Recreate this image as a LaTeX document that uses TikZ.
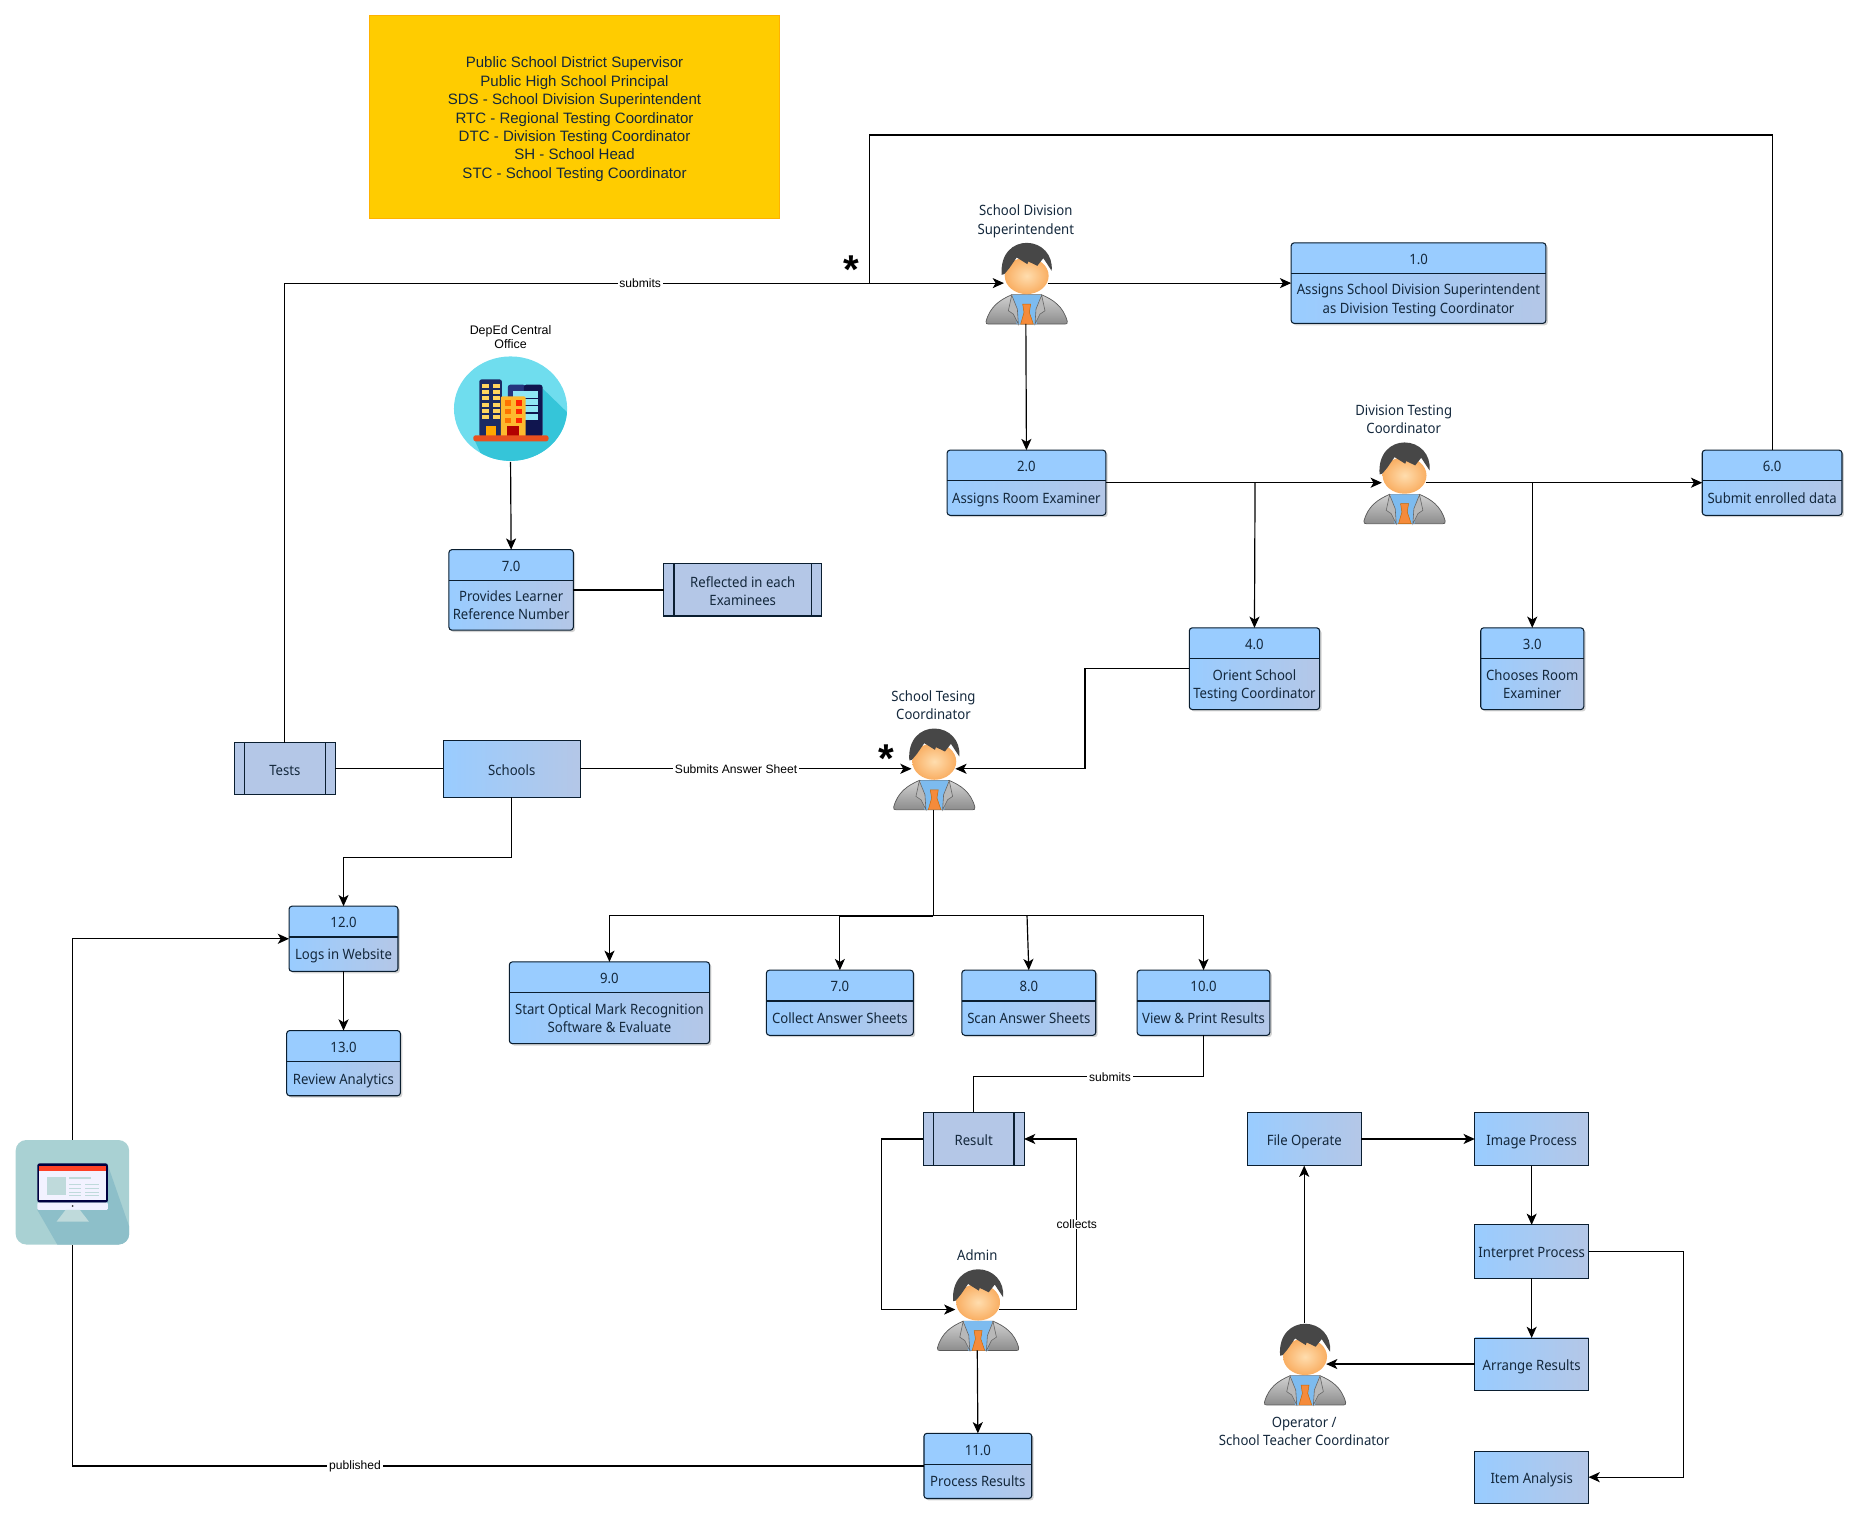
\documentclass[tikz,border=0pt]{standalone}
\usepackage{fontspec}
\setmainfont{Noto Sans}[FakeStretch=.925]
\newfontfamily\labelfont{Liberation Sans}
\usetikzlibrary{arrows.meta,positioning,calc,shadows}
\definecolor{headblue}{HTML}{99CCFF}
\definecolor{bodyblue}{HTML}{B4C7E7}
\definecolor{inkline}{HTML}{0A1E30}
\definecolor{inktext}{HTML}{14283C}
\definecolor{legendfill}{HTML}{FFCC00}
\definecolor{facein}{HTML}{FFDDAE}
\definecolor{faceout}{HTML}{F9AE62}
\definecolor{shirtblue}{HTML}{7DBBEF}
\definecolor{tieorange}{HTML}{F58B3B}
\definecolor{skylight}{HTML}{6FDDEE}
\definecolor{skydark}{HTML}{35C5D9}
\definecolor{navya}{HTML}{1B2A63}
\definecolor{navyb}{HTML}{25357E}
\definecolor{navyc}{HTML}{10154F}
\definecolor{winblue}{HTML}{8FE6F5}
\definecolor{winyellow}{HTML}{FFD45E}
\definecolor{blockorange}{HTML}{FDB92E}
\definecolor{basered}{HTML}{E8501E}
\definecolor{tilebg}{HTML}{A9D1D3}
\definecolor{tilesh}{HTML}{8DBFC9}
\definecolor{tilepale}{HTML}{BFDADB}
\newcommand{\samehgt}[1]{\rule{0pt}{13.5pt}#1\vphantom{Apg}}
\tikzset{
  suitman/.pic={
    \begin{scope}[x=.281pt,y=-.281pt]
      \draw[draw=black!65,top color=black!18,bottom color=black!45,line width=.6pt]
        (-122,115) .. controls (-110,70) and (-80,50) .. (-45,35) -- (45,35)
        .. controls (80,50) and (110,70) .. (122,115)
        .. controls (123,122) and (120,123) .. (115,123) -- (-115,123)
        .. controls (-120,123) and (-123,122) .. (-122,115) -- cycle;
      \fill[shirtblue] (-42,35) -- (42,35) -- (30,123) -- (-30,123) -- cycle;
      \draw[draw=black!60,fill=black!28,line width=.5pt] (-45,36) -- (-55,83) -- (-40,93) -- (-25,123) -- (-28,78) -- cycle;
      \draw[draw=black!60,fill=black!28,line width=.5pt] (45,36) -- (55,83) -- (40,93) -- (25,123) -- (28,78) -- cycle;
      \draw[draw=orange!80!black,fill=tieorange,line width=.4pt]
        (-12,63) -- (12,63) -- (8,88) -- (20,123) -- (-18,123) -- (-8,88) -- cycle;
      \shade[inner color=facein,outer color=faceout] (0,-22) ellipse (66 and 55);
      \fill[black!72]
        (-75,-25) .. controls (-80,-90) and (-40,-121) .. (0,-121)
        .. controls (45,-121) and (80,-85) .. (75,-37)
        -- (50,-75) -- (32,-52) -- (5,-65) -- (2,-57) -- (-30,-77)
        -- (-52,-45) -- (-67,-27) -- cycle;
    \end{scope}
  },
  officeicon/.pic={
    \begin{scope}[x=.281pt,y=-.281pt]
      \fill[skylight] (0,0) ellipse (170 and 157);
      \begin{scope}
        \clip (0,0) ellipse (170 and 157);
        \fill[skydark] (97,-60) -- (200,40) -- (200,200) -- (-60,200) -- (-110,90) -- (97,90) -- cycle;
      \end{scope}
      % Buildings
      \fill[navya,rounded corners=2pt] (-94,-88) rectangle (-26,85);
      \foreach \wy in {-73,-55,-37,-18,0,20}
        \foreach \wx in {-85,-52}
          \fill[winyellow] (\wx,\wy) rectangle +(20,12);
      \fill[orange!70!yellow] (-74,53) rectangle (-44,85);
      \fill[navyb,rounded corners=2pt] (-8,-72) rectangle (45,85);
      \fill[navyc,rounded corners=2pt] (40,-72) rectangle (96,85);
      \foreach \wy/\wh in {-52/19,-30/20,-7/17,17/18}
        \fill[winblue] (8,\wy) rectangle +(74,\wh);
      \fill[blockorange,rounded corners=1pt] (-29,-37) rectangle (45,85);
      \foreach \wy in {-25,0,27}{
        \fill[orange!90!red] (-17,\wy) rectangle +(17,16);
        \fill[red!70!orange] (17,\wy) rectangle +(17,16);
      }
      \fill[red!70!black] (-10,53) rectangle (26,85);
      \fill[basered,rounded corners=2pt] (-112,80) rectangle (114,98);
    \end{scope}
  },
  screenicon/.pic={
    \begin{scope}[x=.281pt,y=-.281pt]
      \fill[tilebg,rounded corners=9pt] (-170,-157) rectangle (171,157);
      \begin{scope}
        \clip[rounded corners=9pt] (-170,-157) rectangle (171,157);
        \fill[tilesh] (105,-87) -- (171,103) -- (171,157) -- (-45,157) -- (-105,53) -- cycle;
      \end{scope}
      \fill[black!75!blue,rounded corners=2pt] (-105,-87) rectangle (107,31);
      \fill[red!75!orange!85!white] (-99,-80) rectangle (101,-65);
      \fill[blue!5!white] (-99,-65) rectangle (101,23);
      \fill[blue!6!white,rounded corners=1pt] (-105,31) rectangle (107,53);
      \fill[black!80] (1,41) circle (3);
      \fill[tilepale] (-20,53) -- (23,53) -- (50,88) -- (-47,88) -- cycle;
      \fill[tilepale] (-77,-47) rectangle (-19,8);
      \foreach \ly in {-45,-25,-13,-2,8}
        \fill[tilepale] (-10,\ly) rectangle +(35,4);
      \foreach \ly in {-25,-13,-2,8}
        \fill[tilepale] (37,\ly) rectangle +(42,4);
      \fill[tilepale] (25,-45) rectangle +(30,4);
    \end{scope}
  },
}

\begin{document}
\begin{tikzpicture}[x=1pt,y=-1pt,line cap=butt]
    % Styles
    \tikzstyle{every node}=[inner sep=0pt,outer sep=0pt,text=inktext]
    \tikzstyle{conn}=[draw=black,line width=1pt]
    \tikzstyle{arr}=[conn,-{Stealth[length=9.5pt,width=8.5pt,inset=2.5pt]}]
    \tikzstyle{proc box}=[draw=inkline,line width=.9pt,rounded corners=2.5pt,
      left color=headblue,right color=bodyblue,
      drop shadow={opacity=.35,shadow xshift=1.6pt,shadow yshift=-1.6pt}]
    \tikzstyle{proc text}=[font=\fontsize{12}{15.5}\selectfont,align=center]
    \tikzstyle{plain box}=[draw=inkline,line width=.8pt,left color=headblue,right color=bodyblue,
      font=\fontsize{12}{15.5}\selectfont,align=center]
    \tikzstyle{store box}=[draw=inkline,line width=.9pt,fill=bodyblue,
      font=\fontsize{12}{15.5}\selectfont,align=center,
      path picture={
        \draw[inkline,line width=.9pt]
          ([xshift=8.5pt]path picture bounding box.north west) -- ([xshift=8.5pt]path picture bounding box.south west)
          ([xshift=-8.5pt]path picture bounding box.north east) -- ([xshift=-8.5pt]path picture bounding box.south east);
      }]
    \tikzstyle{who}=[font=\fontsize{12}{15.5}\selectfont,align=center]
    \tikzstyle{tag}=[font=\labelfont\fontsize{10.2}{12}\selectfont,fill=white,text=black,inner xsep=1.5pt]
    \tikzstyle{star}=[font=\labelfont\bfseries\fontsize{34}{34}\selectfont,text=black]

    % Page
    \useasboundingbox (0,0) rectangle (1568.5,1282.3);

    % Legend
    \node[draw=orange!60!yellow,line width=.6pt,fill=legendfill,minimum width=346pt,minimum height=171pt,
      font=\labelfont\fontsize{12.7}{15.55}\selectfont,align=center] (legend) at (485,98.5) {%
      \rule{0pt}{13.5pt}Public School District Supervisor\\
      Public High School Principal\\
      SDS - School Division Superintendent\\
      RTC - Regional Testing Coordinator\\
      DTC - Division Testing Coordinator\\
      SH - School Head\\
      STC - School Testing Coordinator};

    % Numbered processes
    \foreach \nm/\lft/\tp/\bw/\bh/\boxnum/\boxtxt in {
        p1/1090/205/215/68/1.0/{Assigns School Division Superintendent\\as Division Testing Coordinator},
        p2/799.5/380/134/55/2.0/{Assigns Room Examiner},
        p6/1437/380/118/55/6.0/{Submit enrolled data},
        p4/1004/530/110/69/4.0/{Orient School\\Testing Coordinator},
        p3/1250/530/87/69/3.0/{Chooses Room\\Examiner},
        p7a/379/464/105/68/7.0/{Provides Learner\\Reference Number},
        p12/244/765/92/55/12.0/{Logs in Website},
        p13/242/870/96/55/13.0/{Review Analytics},
        p9/430/812/169/69/9.0/{Start Optical Mark Recognition\\Software \& Evaluate},
        p7b/647/819/124/55/7.0/{Collect Answer Sheets},
        p8/812/819/113/55/8.0/{Scan Answer Sheets},
        p10/960/819/112/55/10.0/{View \& Print Results},
        p11/780/1210/91/55/11.0/{Process Results}}
    {
      \node[proc box,minimum width=\bw pt,minimum height=\bh pt,
        path picture={
          \fill[headblue] (path picture bounding box.north west) rectangle ([yshift=-26pt]path picture bounding box.north east);
          \draw[inkline,line width=.9pt] ([yshift=-26pt]path picture bounding box.north west) -- ([yshift=-26pt]path picture bounding box.north east);
        }] (\nm) at (\lft+\bw/2,\tp+\bh/2) {};
      \node[proc text] (\nm num) at ([yshift=-13pt]\nm.north) {\samehgt{\boxnum}};
      \node[proc text] (\nm txt) at ([yshift={-12.3pt-\bh*.5pt}]\nm.north) {\samehgt{\boxtxt}};
    }

    % Plain boxes
    \foreach \nm/\cx/\cy/\bw/\bh/\boxtxt in {
        schools/432/649/116/48/{Schools},
        fileop/1101/961.5/96/45/{File Operate},
        imgproc/1293/961.5/96/45/{Image Process},
        interp/1293/1056.5/96/45/{Interpret Process},
        arrange/1293/1151.5/96/44/{Arrange Results},
        itemana/1293/1247/96/44/{Item Analysis}}
      \node[plain box,minimum width=\bw pt,minimum height=\bh pt] (\nm) at (\cx,\cy) {\samehgt{\boxtxt}};

    % Data stores
    \foreach \nm/\cx/\cy/\bw/\bh/\boxtxt in {
        reflected/627/498/133/44/{Reflected in each\\Examinees},
        tests/240.5/649/85/44/{Tests},
        result/822/961.5/85/45/{Result}}
      \node[store box,minimum width=\bw pt,minimum height=\bh pt] (\nm) at (\cx,\cy) {\samehgt{\boxtxt}};

    % Actors
    \foreach \nm/\cx/\cy in {sds/866/239,dtc/1185/407.5,stc/788/649,admin/825/1105.5,oper/1101/1151.5}
    {
      \pic at (\cx+.7,\cy) {suitman};
      \node[minimum width=37pt,minimum height=69pt] (\nm) at (\cx,\cy) {};
    }
    \node[who,above=4pt of sds] (sdslbl) {School Division\\Superintendent};
    \node[who,above=7pt of dtc] (dtclbl) {Division Testing\\Coordinator};
    \node[who,above=7pt of stc] (stclbl) {School Tesing\\Coordinator};
    \node[who,above=6.5pt of admin] (adminlbl) {Admin};
    \node[who,below=10pt of oper] (operlbl) {Operator /\\School Teacher Coordinator};

    % Icons
    \pic at (431,345) {officeicon};
    \node[circle,minimum size=90pt] (office) at (431,345) {};
    \node[font=\labelfont\fontsize{10.5}{11.7}\selectfont,align=center,text=black,above=5.5pt of office] (officelbl) {DepEd Central\\Office};
    \pic at (61,1006.5) {screenicon};
    \node[minimum width=96pt,minimum height=89pt] (screen) at (61,1006.5) {};

    \node[star] (star1) at (719,227.5) {*};
    \node[star] (star2) at (748,640.5) {*};

    % Connectors
    \coordinate (junction1) at (734,239);
    \coordinate (junction2) at (1059.5,407.5);
    \coordinate (junction3) at (1293.5,407.5);
    \coordinate (fork) at (788,773);
    \coordinate (fork2) at (788,774);
    \coordinate (fork8) at (867,773);

    \draw[arr] (tests.north) |- node[tag,pos=.747] {submits} (sds.west);
    \draw[conn] (p6.north) |- (734,114) -- (junction1);
    \draw[arr] (sds.east) -- (p1.west);
    \draw[arr] (sds.south) -- (p2.north);
    \draw[arr] (p2.east) -- (dtc.west);
    \draw[arr] (junction2) -- (p4.north);
    \draw[arr] (dtc.east) -- (p6.west);
    \draw[arr] (junction3) -- (p3.north);
    \draw[arr] (office.south) -- (p7a.north);
    \draw[conn] (p7a.east) -- (p7a.east -| reflected.west);
    \draw[conn] (tests.east) -- (schools.west);
    \draw[arr] (schools.east) -- node[tag,pos=.47] {Submits Answer Sheet} (stc.west);
    \draw[arr] (p4.west) -- (916,564.5) |- (stc.east);
    \draw[arr] (schools.south) |- (290,724) -- (p12.north);
    \draw[conn] (stc.south) -- (fork);
    \draw[arr] (fork) -| (p9.north);
    \draw[arr] (fork2) -| (p7b.north);
    \draw[arr] (fork8) -- (p8.north);
    \draw[arr] (fork) -| (p10.north);
    \draw[arr] (p12.south) -- (p13.north);
    \draw[conn] (p10.south) |- node[tag,pos=.7035] {submits} (822,909) -- (result.north);
    \draw[arr] (result.west) -- (744,961.5) |- (admin.west);
    \draw[arr] (admin.east) -- (909,1105.5) |- node[tag,pos=.25] {collects} (result.east);
    \draw[arr] (admin.south) -- (p11.north);
    \draw[conn] (p11.west) -| node[tag,pos=.334] {published} (screen.south);
    \draw[arr] (screen.north) |- (p12.west);
    \draw[arr] (oper.north) -- (fileop.south);
    \draw[arr] (fileop.east) -- (imgproc.west);
    \draw[arr] (imgproc.south) -- (interp.north);
    \draw[arr] (interp.south) -- (arrange.north);
    \draw[arr] (arrange.west) -- (oper.east);
    \draw[arr] (interp.east) -- (1421,1056.5) |- (itemana.east);
\end{tikzpicture}
\end{document}
